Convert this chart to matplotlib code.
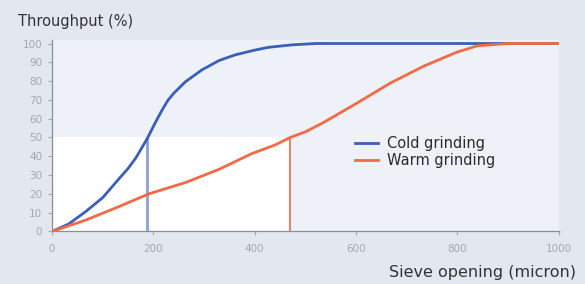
import matplotlib.pyplot as plt
from matplotlib.patches import Rectangle

cold_x = [0, 33, 66, 100, 132, 150, 165, 176, 188, 203, 217, 228, 240, 263, 296, 330, 362, 400, 428, 474, 520, 1000]
cold_y = [0, 4, 10.5, 18, 28, 33.5, 39, 44, 49.5, 57.5, 64.5, 69.5, 73.5, 79.6, 86, 91, 94, 96.5, 98, 99.3, 100, 100]
warm_x = [0, 66, 130, 191, 263, 329, 395, 440, 470, 500, 536, 600, 668, 734, 800, 840, 900, 1000]
warm_y = [0, 6, 13, 20, 26, 33, 41.5, 46, 50, 53, 58, 68, 79, 88, 95.5, 98.8, 100, 100]
cold_d50 = 188
warm_d50 = 470
xticks = [0, 200, 400, 600, 800, 1000]
yticks = list(range(0, 101, 10))

blue = '#3a5fb8'
orange = '#f26a45'

fig = plt.figure(figsize=(5.85, 2.84), dpi=100, facecolor='#e2e7f0')
ax = fig.add_axes([0.089, 0.185, 0.866, 0.675])
ax.set_facecolor('#eef1f8')

# white box under the 50 % line up to the warm d50
ax.add_patch(Rectangle((0, 0), warm_d50, 50, facecolor='white', edgecolor='none', zorder=0))
ax.plot(cold_x, cold_y, color=blue, lw=2, label='Cold grinding', zorder=3)
ax.plot(warm_x, warm_y, color=orange, lw=2, label='Warm grinding', zorder=3)
ax.vlines(cold_d50, 0, 50, color='#8f9fd6', lw=2, zorder=2)
ax.vlines(warm_d50, 0, 50, color=orange, lw=1.2, zorder=2)

ax.set_xlim(0, 1000)
ax.set_ylim(0, 102)
ax.set_xticks(xticks)
ax.set_yticks(yticks)
ax.tick_params(colors='#a3a8b1', labelsize=7.5, length=3, width=0.8)
ax.tick_params(axis='x', pad=6)
ax.tick_params(axis='y', pad=4)
for s in ['top', 'right']:
    ax.spines[s].set_visible(False)
for s in ['left', 'bottom']:
    ax.spines[s].set_color('#8a8f96')
    ax.spines[s].set_linewidth(0.9)

leg = ax.legend(loc='upper left', bbox_to_anchor=(0.598, 0.5), frameon=False,
                fontsize=10.5, handlelength=1.6, handletextpad=0.6,
                labelspacing=0.15, borderpad=0, borderaxespad=0)
for t in leg.get_texts():
    t.set_color('#2b2b2b')

fig.text(0.03, 0.925, 'Throughput (%)', fontsize=10.5, color='#333333', va='center')
fig.text(0.985, 0.04, 'Sieve opening (micron)', fontsize=11.5, color='#333333',
         ha='right', va='center')

fig.savefig('out.png', dpi=100, facecolor=fig.get_facecolor())
